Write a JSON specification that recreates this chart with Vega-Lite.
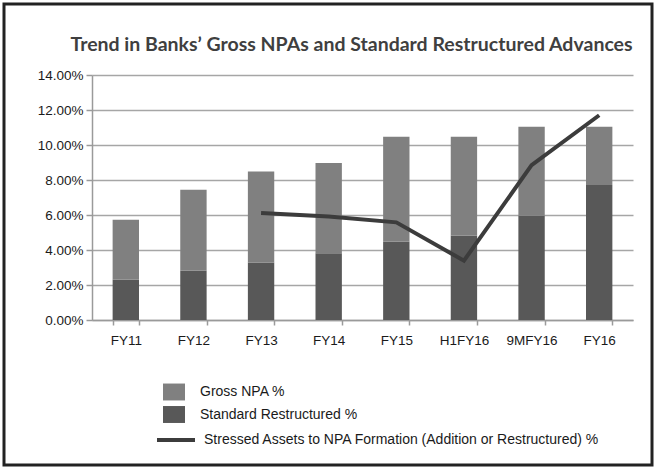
{
  "$schema": "https://vega.github.io/schema/vega-lite/v6.json",
  "autosize": {"type": "none"},
  "width": 541,
  "height": 245,
  "padding": {"left": 92, "top": 75, "right": 23, "bottom": 149},
  "background": "white",
  "title": {
    "text": "Trend in Banks’ Gross NPAs and Standard Restructured Advances",
    "font": "Lato",
    "fontSize": 19.5,
    "fontWeight": "bold",
    "color": "#3f3f3f",
    "anchor": "middle",
    "dx": -11,
    "offset": 0,
    "dy": 53
  },
  "datasets": {
    "bars": [
      {"period": "FY11", "series": "Standard Restructured %", "value": 2.30},
      {"period": "FY11", "series": "Gross NPA %", "value": 3.43},
      {"period": "FY12", "series": "Standard Restructured %", "value": 2.82},
      {"period": "FY12", "series": "Gross NPA %", "value": 4.63},
      {"period": "FY13", "series": "Standard Restructured %", "value": 3.29},
      {"period": "FY13", "series": "Gross NPA %", "value": 5.20},
      {"period": "FY14", "series": "Standard Restructured %", "value": 3.81},
      {"period": "FY14", "series": "Gross NPA %", "value": 5.16},
      {"period": "FY15", "series": "Standard Restructured %", "value": 4.47},
      {"period": "FY15", "series": "Gross NPA %", "value": 6.00},
      {"period": "H1FY16", "series": "Standard Restructured %", "value": 4.82},
      {"period": "H1FY16", "series": "Gross NPA %", "value": 5.65},
      {"period": "9MFY16", "series": "Standard Restructured %", "value": 5.96},
      {"period": "9MFY16", "series": "Gross NPA %", "value": 5.09},
      {"period": "FY16", "series": "Standard Restructured %", "value": 7.71},
      {"period": "FY16", "series": "Gross NPA %", "value": 3.34}
    ],
    "line": [
      {"period": "FY13", "series": "Stressed Assets to NPA Formation (Addition or Restructured) %", "value": 6.11},
      {"period": "FY14", "series": "Stressed Assets to NPA Formation (Addition or Restructured) %", "value": 5.92},
      {"period": "FY15", "series": "Stressed Assets to NPA Formation (Addition or Restructured) %", "value": 5.58},
      {"period": "H1FY16", "series": "Stressed Assets to NPA Formation (Addition or Restructured) %", "value": 3.39},
      {"period": "9MFY16", "series": "Stressed Assets to NPA Formation (Addition or Restructured) %", "value": 8.85},
      {"period": "FY16", "series": "Stressed Assets to NPA Formation (Addition or Restructured) %", "value": 11.7}
    ]
  },
  "layer": [
    {
      "data": {"values": [{"frame": 1}]},
      "mark": {"type": "rect", "fillOpacity": 0, "stroke": "#222222", "strokeWidth": 3},
      "encoding": {
        "x": {"value": -88},
        "x2": {"value": 560},
        "y": {"value": -71},
        "y2": {"value": 390}
      }
    },
    {
      "data": {"name": "bars"},
      "mark": {"type": "bar"},
      "encoding": {
        "x": {
          "field": "period", "type": "ordinal",
          "sort": ["FY11", "FY12", "FY13", "FY14", "FY15", "H1FY16", "9MFY16", "FY16"],
          "scale": {"paddingInner": 0.61, "paddingOuter": 0.305},
          "axis": {"title": null, "labelAngle": 0, "tickBand": "extent", "grid": false, "tickSize": 5, "labelPadding": 8}
        },
        "y": {
          "field": "value", "type": "quantitative", "stack": "zero",
          "scale": {"domain": [0, 14], "nice": false},
          "axis": {"title": null, "values": [0, 2, 4, 6, 8, 10, 12, 14], "labelExpr": "format(datum.value, '.2f') + '%'", "grid": true, "tickSize": 6, "labelPadding": 3, "labelOverlap": false}
        },
        "color": {
          "field": "series", "type": "nominal",
          "scale": {"domain": ["Gross NPA %", "Standard Restructured %"], "range": ["#808080", "#585858"]},
          "legend": {
            "title": null, "orient": "none", "legendX": 71, "legendY": 306,
            "symbolType": "M-1,-0.77H1V0.77H-1Z", "symbolSize": 484, "symbolStrokeWidth": 0,
            "labelOffset": 15, "rowPadding": 2.5
          }
        },
        "order": {"field": "series", "sort": "descending"}
      }
    },
    {
      "data": {"name": "line"},
      "mark": {"type": "line", "strokeWidth": 4},
      "encoding": {
        "x": {"field": "period", "type": "ordinal", "sort": ["FY11", "FY12", "FY13", "FY14", "FY15", "H1FY16", "9MFY16", "FY16"]},
        "y": {
          "field": "value", "type": "quantitative",
          "scale": {"domain": [0, 14], "nice": false},
          "axis": {"title": null, "values": [0, 2, 4, 6, 8, 10, 12, 14], "labelExpr": "format(datum.value, '.2f') + '%'", "grid": true, "tickSize": 6, "labelPadding": 3, "labelOverlap": false}
        },
        "stroke": {
          "field": "series", "type": "nominal",
          "scale": {"range": ["#3c3c3c"]},
          "legend": {
            "title": null, "orient": "none", "legendX": 63, "legendY": 344,
            "symbolType": "stroke", "symbolSize": 1444, "symbolStrokeWidth": 4, "labelOffset": 7
          }
        }
      }
    }
  ],
  "config": {
    "view": {"stroke": null},
    "axis": {
      "labelFont": "Liberation Sans", "labelFontSize": 13.5, "labelColor": "#1a1a1a",
      "domainColor": "#9a9a9a", "tickColor": "#9a9a9a", "gridColor": "#a6a6a6", "gridWidth": 1.5, "domainWidth": 1.5, "tickWidth": 1.5
    },
    "legend": {"labelFont": "Liberation Sans", "labelFontSize": 14, "labelColor": "#1a1a1a", "labelLimit": 500}
  }
}
